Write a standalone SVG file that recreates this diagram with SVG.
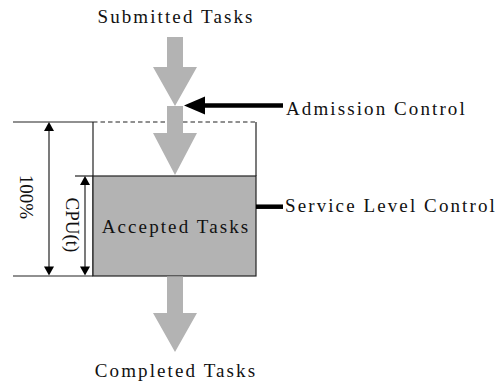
<svg xmlns="http://www.w3.org/2000/svg" width="504" height="383" viewBox="0 0 504 383">
<style>
.t{font-family:"Liberation Serif","Times New Roman",serif;font-size:19px;fill:#111;letter-spacing:2.1px}
.r{font-family:"Liberation Serif","Times New Roman",serif;font-size:19px;fill:#111}
.g{fill:#b3b3b3}
.ln{stroke:#222;stroke-width:1.2;fill:none}
.bk{stroke:#000;stroke-width:4.5;fill:none}
</style>
<rect width="504" height="383" fill="#fff"/>
<g id="frame">
<line class="ln" x1="13" y1="122" x2="93" y2="122"/>
<line class="ln" x1="93" y1="122" x2="256" y2="122" stroke-dasharray="4.5,3"/>
<line class="ln" x1="93" y1="122" x2="93" y2="276"/>
<line class="ln" x1="256" y1="122" x2="256" y2="176"/>
<line class="ln" x1="13" y1="276" x2="93" y2="276"/>
<line class="ln" x1="75" y1="176" x2="93" y2="176"/>
</g>
<g id="accepted">
<rect x="93" y="176" width="163" height="100" fill="#b3b3b3" stroke="#222" stroke-width="1.2"/>
<text class="t" x="176" y="233" text-anchor="middle">Accepted Tasks</text>
</g>
<g id="connectors">
<polygon class="g" points="167,37 183,37 183,67 197,67 175,106 153,67 167,67"/>
<polygon class="g" points="167,106 183,106 183,133 197,133 175,175 153,133 167,133"/>
<polygon class="g" points="167,276.6 183,276.6 183,313 197,313 175,352 153,313 167,313"/>
<line class="bk" x1="203" y1="105.5" x2="283" y2="105.5"/>
<polygon points="184,105.5 205,96.5 205,114.5" fill="#000"/>
<line class="bk" x1="256" y1="206.7" x2="283" y2="206.7"/>
<line class="ln" x1="49" y1="128" x2="49" y2="270"/>
<polygon points="49,122 44,131 54,131" fill="#000"/>
<polygon points="49,275.5 44,266.5 54,266.5" fill="#000"/>
<line class="ln" x1="85" y1="182" x2="85" y2="270"/>
<polygon points="85,176 80,185 90,185" fill="#000"/>
<polygon points="85,275.5 80,266.5 90,266.5" fill="#000"/>
</g>
<g id="submitted"><text class="t" x="176" y="23" text-anchor="middle">Submitted Tasks</text></g>
<g id="admission"><text class="t" x="286" y="115">Admission Control</text></g>
<g id="service"><text class="t" x="285" y="212">Service Level Control</text></g>
<g id="completed"><text class="t" x="176" y="377" text-anchor="middle">Completed Tasks</text></g>
<g id="pct"><text class="r" text-anchor="middle" transform="translate(19.5,197) rotate(90)">100%</text></g>
<g id="cpu"><text class="r" text-anchor="middle" transform="translate(65.5,225) rotate(90)">CPU(t)</text></g>
</svg>
